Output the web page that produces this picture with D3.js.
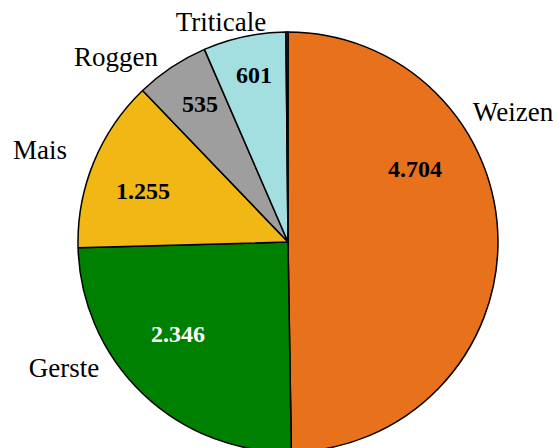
<!DOCTYPE html>
<html>
<head>
<meta charset="utf-8">
<script src="https://cdn.jsdelivr.net/npm/d3@7"></script>
<style>
  body { margin: 0; background: #fff; }
  svg { display: block; }
  .cat { font-family: "Liberation Serif", "Times New Roman", serif; font-size: 27px; fill: #000; }
  .val { font-family: "Liberation Serif", "Times New Roman", serif; font-size: 24px; font-weight: bold; }
</style>
</head>
<body>
<div id="chart"></div>
<script>
// data
const categories = ["Weizen", "Gerste", "Mais", "Roggen", "Triticale", "Sonstige"]
const values = [4704, 2346, 1255, 535, 601, 15]
const valueLabels = ["4.704", "2.346", "1.255", "535", "601", ""]
const colors = ["#e8711c", "#008000", "#f1b715", "#9e9e9e", "#a3dfe0", "#7b2a63"]

// label placement (relative to pie centre)
const catPos = {
  Weizen: [225, -121], Gerste: [-224, 135], Mais: [-248, -83],
  Roggen: [-172, -176], Triticale: [-67, -211], Sonstige: null
}
const valPos = {
  Weizen: [127, -65], Gerste: [-110, 100], Mais: [-145, -43],
  Roggen: [-88, -130], Triticale: [-34, -159], Sonstige: null
}

const WIDTH = 559, HEIGHT = 448
const CX = 288, CY = 242, R = 210

const svg = d3.select("#chart").append("svg")
  .attr("width", WIDTH)
  .attr("height", HEIGHT)

const g = svg.append("g")
  .attr("transform", `translate(${CX}, ${CY})`)

const data = categories.map((c, i) => ({ cat: c, value: values[i], label: valueLabels[i], color: colors[i] }))

const pie = d3.pie().sort(null).value(d => d.value)
const arc = d3.arc().innerRadius(0).outerRadius(R)

g.selectAll("path")
  .data(pie(data))
  .enter().append("path")
  .attr("d", arc)
  .attr("fill", d => d.data.color)
  .attr("stroke", "#000")
  .attr("stroke-width", 1.5)
  .attr("stroke-linejoin", "round")

// category labels
g.selectAll("text.cat")
  .data(data.filter(d => catPos[d.cat]))
  .enter().append("text")
  .attr("class", "cat")
  .attr("x", d => catPos[d.cat][0])
  .attr("y", d => catPos[d.cat][1])
  .attr("text-anchor", "middle")
  .text(d => d.cat)

// value labels
g.selectAll("text.val")
  .data(data.filter(d => valPos[d.cat]))
  .enter().append("text")
  .attr("class", "val")
  .attr("x", d => valPos[d.cat][0])
  .attr("y", d => valPos[d.cat][1])
  .attr("text-anchor", "middle")
  .attr("fill", d => d.cat === "Gerste" ? "#fff" : "#000")
  .text(d => d.label)
</script>
</body>
</html>
